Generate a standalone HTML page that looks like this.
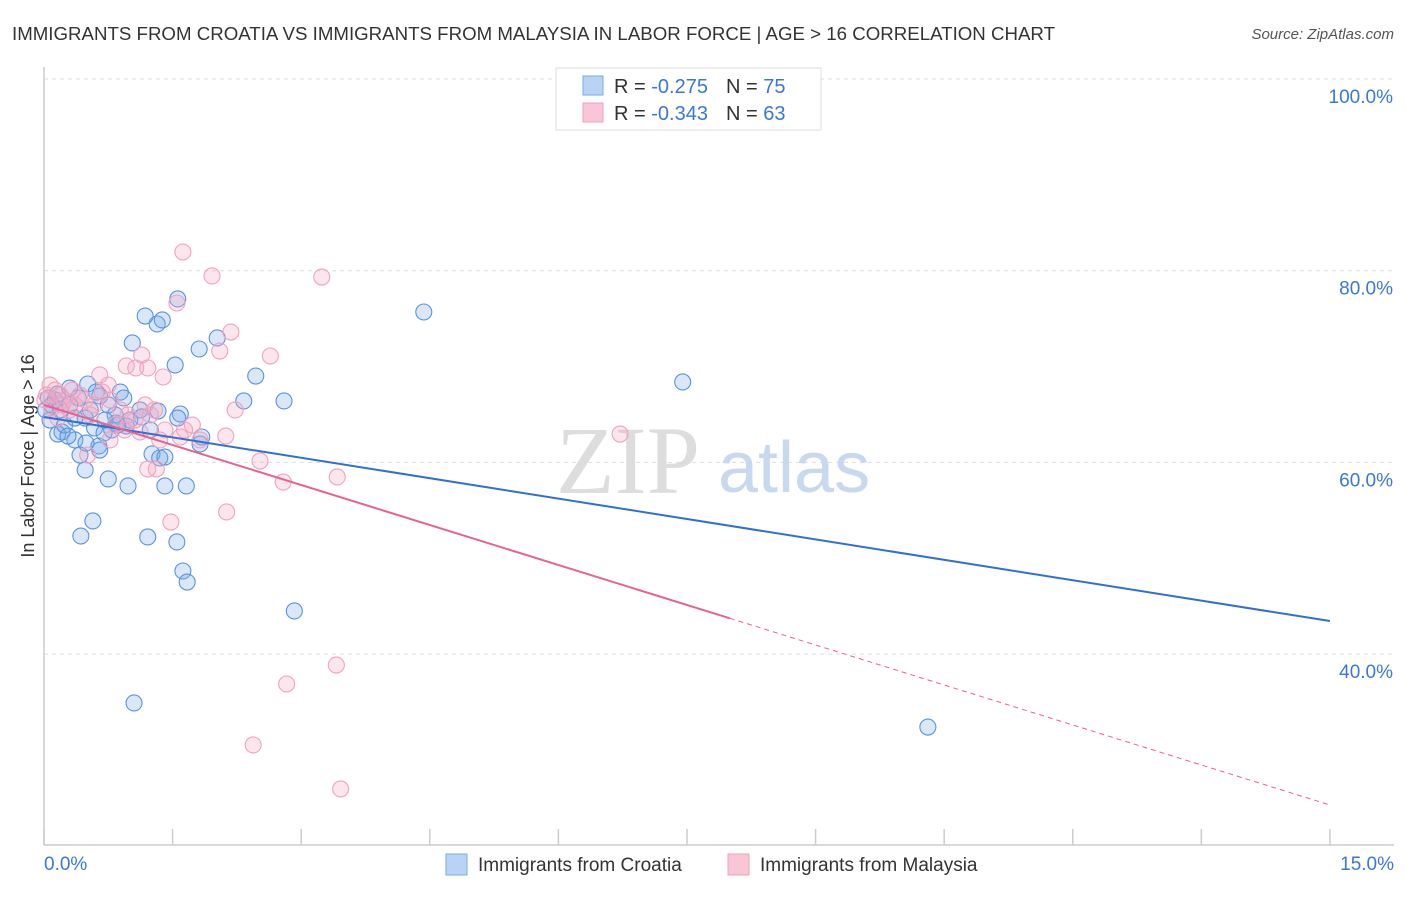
<!DOCTYPE html>
<html><head><meta charset="utf-8"><style>
body{margin:0;background:#fff;font-family:"Liberation Sans",sans-serif}
</style></head><body>
<svg width="1406" height="892" xmlns="http://www.w3.org/2000/svg" font-family="Liberation Sans, sans-serif">
<text x="12" y="40" font-size="18" fill="#333" textLength="1043" lengthAdjust="spacingAndGlyphs">IMMIGRANTS FROM CROATIA VS IMMIGRANTS FROM MALAYSIA IN LABOR FORCE | AGE &gt; 16 CORRELATION CHART</text>
<text x="1394" y="39" font-size="15" fill="#555" font-style="italic" text-anchor="end">Source: ZipAtlas.com</text>
<g id="grid"></g>
<line x1="44" y1="67" x2="44" y2="845" stroke="#ccc" stroke-width="1.5"/>
<line x1="44" y1="845" x2="1394" y2="845" stroke="#ccc" stroke-width="1.5"/>
<text x="556" y="493" font-size="96" fill="#ddd" font-family="Liberation Serif, serif">ZIP</text>
<text x="718" y="492" font-size="72" fill="#c8d8ef">atlas</text>
<g id="ticks"></g>
<g id="ylabels"></g>
<text x="44" y="870" font-size="19" fill="#3a78d8">0.0%</text>
<text x="1394" y="870" font-size="19" fill="#3a78d8" text-anchor="end">15.0%</text>
<text transform="translate(34,456) rotate(-90)" font-size="18" fill="#333" text-anchor="middle">In Labor Force | Age &gt; 16</text>
<g id="pts"></g>
<g id="lines"></g>
<g>
<rect x="556" y="68" width="265" height="62" fill="#fff" stroke="#ddd"/>
<rect x="583" y="76" width="20" height="19" fill="#b9d3f5" stroke="#7aa8e6"/>
<rect x="583" y="103" width="20" height="19" fill="#f9c6d6" stroke="#eea0b8"/>
<text x="614" y="93" font-size="20" fill="#333">R = <tspan fill="#3a78d8">-0.275</tspan><tspan dx="18">N = </tspan><tspan fill="#3a78d8">75</tspan></text>
<text x="614" y="120" font-size="20" fill="#333">R = <tspan fill="#3a78d8">-0.343</tspan><tspan dx="18">N = </tspan><tspan fill="#3a78d8">63</tspan></text>
</g>
<g>
<rect x="446" y="854" width="21" height="21" fill="#b9d3f5" stroke="#7aa8e6"/>
<text x="478" y="871" font-size="19" fill="#333">Immigrants from Croatia</text>
<rect x="728" y="854" width="21" height="21" fill="#f9c6d6" stroke="#eea0b8"/>
<text x="760" y="871" font-size="19" fill="#333">Immigrants from Malaysia</text>
</g>
</svg>
<script>
const blueX=[4.43,7.45,10.31,2.92,1.05,1.56,1.18,1.32,1.38,1.03,1.81,2.02,1.53,2.47,2.80,2.33,1.33,1.59,1.56,1.12,1.14,0.89,0.51,0.30,0.65,0.75,0.13,0.19,0.07,0.21,0.36,0.16,0.48,0.59,0.24,0.36,0.42,0.48,0.75,0.98,0.64,0.70,0.84,0.96,1.26,1.35,1.41,1.41,1.66,1.82,1.84,0.57,0.43,1.21,1.55,1.62,1.67,0.83,0.86,0.09,0.05,0.02,0.54,0.71,1.00,1.24,0.30,0.79,0.61,0.93,0.28,0.49,0.65,0.40,0.16];
const blueY=[75.69,68.39,32.39,44.50,34.90,77.05,75.27,74.44,74.86,72.46,71.83,72.98,70.16,69.01,66.41,66.41,65.36,65.05,64.63,65.47,64.74,67.34,68.18,67.76,66.93,65.99,66.51,65.47,64.42,63.17,62.34,62.96,64.63,63.59,63.90,64.63,60.77,59.21,58.27,57.54,61.71,63.07,64.11,63.80,60.88,60.46,60.56,57.54,57.54,61.92,62.65,53.89,52.32,52.22,51.70,48.67,47.52,64.95,63.90,65.99,66.72,65.47,65.47,64.42,64.42,63.38,65.99,63.38,67.34,66.72,62.75,62.02,61.29,66.72,67.14];
const pinkX=[1.62,1.96,3.24,1.55,2.18,2.05,2.64,1.14,0.96,1.07,1.21,1.39,0.65,0.75,2.23,1.73,2.12,2.52,2.79,3.42,1.31,1.21,1.48,2.13,6.72,3.41,2.83,2.44,3.46,0.07,0.13,0.03,0.19,0.24,0.30,0.36,0.09,0.42,0.48,0.59,0.68,0.77,0.89,0.98,1.06,1.12,0.94,0.83,1.59,1.64,1.82,1.35,1.41,0.54,0.01,0.16,0.21,0.33,0.51,1.24,0.77,1.29,1.18];
const pinkY=[81.95,79.45,79.34,76.63,73.60,71.62,71.10,71.20,70.06,69.85,69.85,68.91,69.12,68.07,65.47,63.90,62.75,60.15,57.95,58.48,59.31,59.31,53.78,54.83,62.96,38.86,36.88,30.52,25.93,68.07,67.55,67.03,67.03,66.51,65.47,65.99,65.68,67.03,66.51,65.99,67.34,66.51,65.47,64.95,64.42,63.17,63.38,63.90,62.65,63.38,62.34,62.34,63.38,64.95,66.51,64.63,65.99,67.55,60.77,64.95,62.34,65.47,65.99];
const blueTrend=[64.74,43.45];
const pinkTrend=[65.99,24.26];
const pinkSolidEnd=8.0;
const yTicks=[100,80,60,40];
const yTickLabels=["100.0%","80.0%","60.0%","40.0%"];
const xTicks=[0,1.5,3,4.5,6,7.5,9,10.5,12,13.5,15];
const NS="http://www.w3.org/2000/svg";
const sx=v=>44+v*85.73, sy=v=>79+(100-v)*9.585;
function mk(tag,attrs,parent){const e=document.createElementNS(NS,tag);for(const k in attrs)e.setAttribute(k,attrs[k]);parent.appendChild(e);return e;}
const grid=document.getElementById('grid'),yl=document.getElementById('ylabels'),tk=document.getElementById('ticks');
yTicks.forEach((t,i)=>{
 const l=mk('line',{x1:44,x2:1394,y1:sy(t),y2:sy(t),stroke:'#ddd','stroke-dasharray':'4,4'},grid);
 
 
 const tx=mk('text',{x:1393,y:sy(t)+24,'font-size':19,fill:'#3a78d8','text-anchor':'end'},yl);
 tx.textContent=yTickLabels[i];
 
 
});
xTicks.forEach(t=>{
 const l=mk('line',{x1:sx(t),x2:sx(t),y1:829,y2:845,stroke:'#ccc','stroke-width':1.5},tk);
 
 
});
const pts=document.getElementById('pts');
blueX.forEach((x,i)=>{
 const c=mk('circle',{cx:sx(x),cy:sy(blueY[i]),r:8,fill:'rgba(120,170,235,0.28)',stroke:'#5a93de','stroke-width':1.1},pts);
 
 
});
pinkX.forEach((x,i)=>{
 const c=mk('circle',{cx:sx(x),cy:sy(pinkY[i]),r:8,fill:'rgba(245,165,195,0.28)',stroke:'#eea3bd','stroke-width':1.1},pts);
 
 
});
const lines=document.getElementById('lines');
const bl=mk('line',{x1:sx(0),y1:sy(blueTrend[0]),x2:sx(15),y2:sy(blueTrend[1]),stroke:'#2f6fd6','stroke-width':2},lines);


const pAt=x=>pinkTrend[0]+(pinkTrend[1]-pinkTrend[0])*x/15;
const pl=mk('line',{x1:sx(0),y1:sy(pinkTrend[0]),x2:sx(pinkSolidEnd),y2:sy(pAt(pinkSolidEnd)),stroke:'#e8628e','stroke-width':2},lines);


const pd=mk('line',{x1:sx(pinkSolidEnd),y1:sy(pAt(pinkSolidEnd)),x2:sx(15),y2:sy(pinkTrend[1]),stroke:'#e8628e','stroke-width':1,'stroke-dasharray':'5,4'},lines);


</script>
</body></html>
